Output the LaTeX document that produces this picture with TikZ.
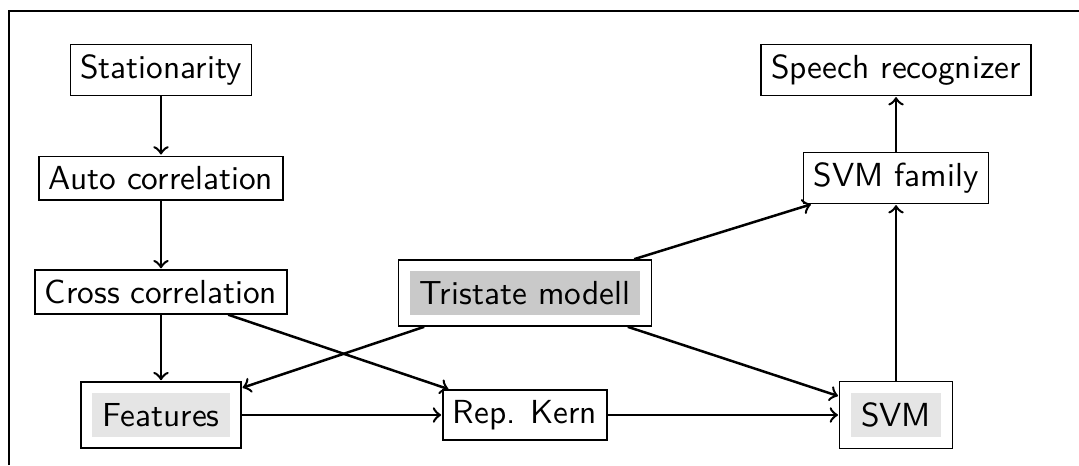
\documentclass[tikz,border=0pt]{standalone}
\usetikzlibrary{fit}
\begin{document}
\begin{tikzpicture}[x=0.3pt,y=-0.3pt,
  font=\sffamily,
  box/.style={draw, line width=0.45pt, inner sep=3pt},
  grayin/.style={inner sep=3pt},
  outbox/.style={draw, line width=0.45pt, inner sep=3.2pt},
  conn/.style={->, line width=0.75pt, shorten >=0.3pt}]
\useasboundingbox (0,0) rectangle (1079,465);
\draw[line width=0.4pt] (9,465) -- (9,11) -- (1079,11);
\node[box] (stat) at (161,70) {Stationarity};
\node[box] (auto) at (161,178) {Auto correlation};
\node[box] (cross) at (161,292) {Cross correlation};
\node[grayin, fill=black!10] (featin) at (161,415) {Features};
\node[outbox, fit=(featin)] (feat) {};
\node[box] (rep) at (525,415) {Rep. Kern};
\node[grayin, fill=black!21] (triin) at (525,293) {Tristate modell};
\node[outbox, fit=(triin)] (tri) {};
\node[grayin, fill=black!10] (svmin) at (896,415) {SVM};
\node[outbox, fit=(svmin)] (svm) {};
\node[box] (fam) at (896,178) {SVM family};
\node[box] (speech) at (896,70) {Speech recognizer};
\draw[conn] (stat) -- (auto);
\draw[conn] (auto) -- (cross);
\draw[conn] (cross) -- (feat);
\draw[conn] (cross) -- (rep);
\draw[conn] (tri) -- (feat);
\draw[conn] (tri) -- (svm);
\draw[conn] (tri) -- (fam);
\draw[conn] (feat) -- (rep);
\draw[conn] (rep) -- (svm);
\draw[conn] (svm) -- (fam);
\draw[conn] (fam) -- (speech);
\end{tikzpicture}
\end{document}
